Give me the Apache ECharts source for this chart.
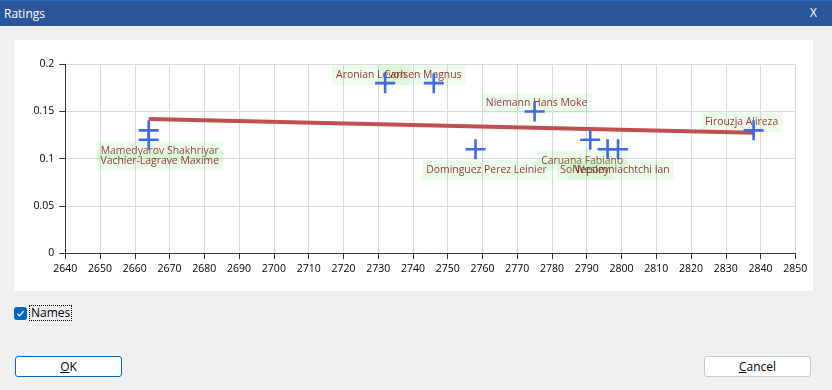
<!DOCTYPE html>
<html>
<head>
<meta charset="utf-8">
<script src="https://cdn.jsdelivr.net/npm/echarts@6/dist/echarts.min.js"></script>
<style>
  html, body { margin: 0; padding: 0; width: 832px; height: 390px; overflow: hidden; background: #f0f0f0; font-family: "Open Sans", "Noto Sans", sans-serif; }
  #titlebar { position: absolute; left: 0; top: 0; width: 832px; height: 26px; background: #2b579a; border-top: 1px solid #1f6fd0; box-sizing: border-box; }
  #title { position: absolute; left: 4px; top: 4px; color: #fff; font-size: 12px; }
  #close { position: absolute; left: 810px; top: 3px; color: #fff; font-size: 12px; }
  #chart { position: absolute; left: 14px; top: 40px; width: 799px; height: 251px; background: #fff; }
  #cb { position: absolute; left: 14px; top: 307px; width: 13px; height: 13px; background: #0067c0; border-radius: 3px; }
  #cb svg { position: absolute; left: 2px; top: 2px; }
  #names { position: absolute; left: 29px; top: 305px; height: 16px; padding: 0 1px; border: 1px dotted #000; box-sizing: border-box; font-size: 12px; line-height: 14px; color: #000; }
  .btn { position: absolute; top: 356px; height: 21px; width: 107px; background: #fff; border-radius: 3px; box-sizing: border-box; font-size: 12px; line-height: 19px; text-align: center; color: #000; }
  #ok { left: 15px; border: 1px solid #0067c0; }
  #cancel { left: 704px; border: 1px solid #c8c8c8; }
</style>
</head>
<body>
<div id="titlebar"><div id="title">Ratings</div><div id="close">X</div></div>
<div id="chart"></div>
<div id="cb"><svg width="9" height="9" viewBox="0 0 9 9"><path d="M1.5 4.8 L3.6 6.8 L7.6 2.2" stroke="#fff" stroke-width="1.2" fill="none"/></svg></div>
<div id="names">Names</div>
<div class="btn" id="ok"><u>O</u>K</div>
<div class="btn" id="cancel"><u>C</u>ancel</div>
<script>
// ---- data ----
const players = ["Mamedyarov Shakhriyar", "Vachier-Lagrave Maxime", "Aronian Levon", "Carlsen Magnus",
  "Dominguez Perez Leinier", "Niemann Hans Moke", "Caruana Fabiano", "So Wesley", "Nepomniachtchi Ian", "Firouzja Alireza"];
const ratings = [2664, 2664, 2732, 2746, 2758, 2775, 2791, 2796, 2799, 2838];
const scores = [0.13, 0.12, 0.18, 0.18, 0.11, 0.15, 0.12, 0.11, 0.11, 0.13];
const trendX = [2664, 2838];
const trendY = [0.142, 0.1275];
const xMin = 2640, xMax = 2850, xStep = 10;
const yMin = 0, yMax = 0.2, yStep = 0.05;

// ---- layout (label offsets in px, relative to each point) ----
const labelOffsets = {
  "Mamedyarov Shakhriyar": [11, 21], "Vachier-Lagrave Maxime": [11, 21],
  "Aronian Levon": [-14, -8], "Carlsen Magnus": [-11, -8],
  "Dominguez Perez Leinier": [11, 21], "Niemann Hans Moke": [2, -8],
  "Caruana Fabiano": [-8, 21], "So Wesley": [-23, 21],
  "Nepomniachtchi Ian": [3, 21], "Firouzja Alireza": [-12, -8]
};

const FONT = '"Open Sans", "Noto Sans", sans-serif';
const crossPath = 'path://M0,8.7H20V11.3H0Z M8.7,0H11.3V20H8.7Z';

const points = players.map((n, i) => [ratings[i], scores[i], n]);

const chart = echarts.init(document.getElementById('chart'), null, { renderer: 'canvas' });
chart.setOption({
  animation: false,
  grid: { left: 51.3, right: 17.7, top: 24.3, bottom: 38 },
  xAxis: {
    type: 'value', min: xMin, max: xMax, interval: xStep,
    axisLine: { show: true, onZero: false, lineStyle: { color: '#333', width: 1 } },
    axisTick: { show: true, length: 6, lineStyle: { color: '#333' } },
    axisLabel: { margin: 11, fontSize: 10.5, color: '#000', fontFamily: FONT, formatter: v => String(v) },
    splitLine: { show: true, lineStyle: { color: '#d9d9d9', width: 1 } }
  },
  yAxis: {
    type: 'value', min: yMin, max: yMax, interval: yStep,
    axisLine: { show: true, lineStyle: { color: '#333', width: 1 } },
    axisTick: { show: true, length: 6, lineStyle: { color: '#333' } },
    axisLabel: { margin: 11, fontSize: 10.5, color: '#000', fontFamily: FONT, formatter: v => String(+v.toFixed(2)) },
    splitLine: { show: true, lineStyle: { color: '#d9d9d9', width: 1 } }
  },
  series: [
    {
      type: 'scatter', z: 1, silent: true,
      data: points, symbolSize: 1, itemStyle: { color: 'rgba(0,0,0,0)' },
      label: {
        show: true, position: 'inside',
        formatter: p => p.value[2],
        color: '#7a0000', fontSize: 10.4, fontFamily: FONT,
        backgroundColor: 'rgba(150,235,140,0.22)',
        padding: [4, 4, 3, 4], lineHeight: 13
      },
      labelLayout: function (params) {
        const off = labelOffsets[players[params.dataIndex]];
        return { dx: off[0], dy: off[1], hideOverlap: false };
      }
    },
    {
      type: 'line', z: 2, silent: true,
      data: trendX.map((x, i) => [x, trendY[i]]),
      symbol: 'none',
      lineStyle: { color: '#c0504d', width: 4 }
    },
    {
      type: 'scatter', z: 3, silent: true,
      data: points, symbol: crossPath, symbolSize: 20,
      itemStyle: { color: '#4169e1', opacity: 1 }
    }
  ]
});
</script>
</body>
</html>
